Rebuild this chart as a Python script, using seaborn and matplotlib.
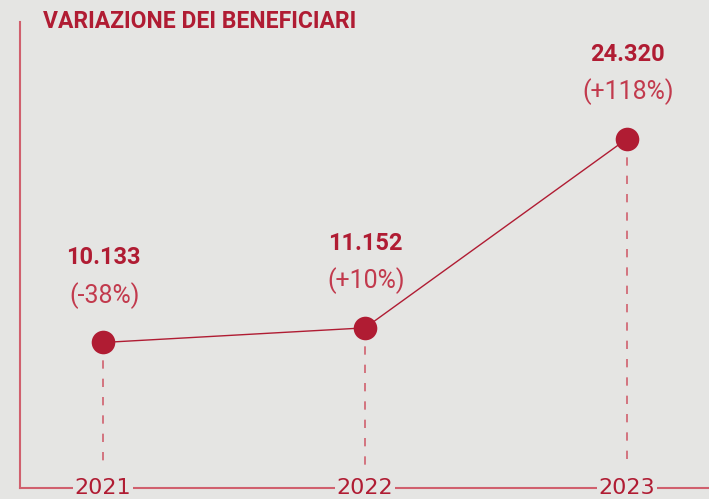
import matplotlib
matplotlib.use("Agg")
from matplotlib import pyplot as plt
import seaborn as sns
import pandas as pd

years = [2021, 2022, 2023]
beneficiari = [10133, 11152, 24320]
value_labels = ["10.133", "11.152", "24.320"]
change_labels = ["(-38%)", "(+10%)", "(+118%)"]

bg = "#e5e5e3"
red = "#b01c33"
light_red = "#c23a4d"
axis_red = "#d0606e"

sns.set_theme(style="white")
plt.rcParams['font.family'] = ['Roboto', 'DejaVu Sans']

df = pd.DataFrame({"anno": years, "beneficiari": beneficiari})

fig = plt.figure(figsize=(7.09, 4.99), dpi=100, facecolor=bg)
ax = fig.add_axes([20 / 709, 11 / 499, 1 - 20 / 709, (488 - 22) / 499])
ax.set_facecolor(bg)

# linee tratteggiate sotto ogni punto
for x, y in zip(df["anno"], df["beneficiari"]):
    ax.plot([x, x], [y, 1300], color=axis_red, lw=1.2, ls=(0, (5, 6)), zorder=1)

sns.lineplot(data=df, x="anno", y="beneficiari", ax=ax, color=red, lw=1,
             marker="o", markersize=17, markeredgewidth=0, zorder=3)

for x, y, v, c in zip(years, beneficiari, value_labels, change_labels):
    ax.annotate(v, (x, y), xytext=(0, 61), textcoords="offset points",
                ha="center", va="center", fontsize=17, fontweight="bold", color=red)
    ax.annotate(c, (x, y), xytext=(1, 34), textcoords="offset points",
                ha="center", va="center", fontsize=18, fontweight="normal", color=light_red)
    ax.text(x, 0, str(x), ha="center", va="center", fontsize=16, color=red,
            family=['Liberation Sans Narrow', 'DejaVu Sans'],
            bbox=dict(facecolor=bg, edgecolor="none", pad=1.0), zorder=5, clip_on=False)

ax.set_xlim(2020.683, 2023.313)
ax.set_ylim(0, 32450)
ax.set_xticks([])
ax.set_yticks([])
ax.set_xlabel("")
ax.set_ylabel("")
for side in ["top", "right"]:
    ax.spines[side].set_visible(False)
for side in ["left", "bottom"]:
    ax.spines[side].set_color(axis_red)
    ax.spines[side].set_linewidth(1.5)

fig.text(43 / 709, 1 - 21 / 499, "VARIAZIONE DEI BENEFICIARI", ha="left", va="center",
         fontsize=16.5, fontweight="bold", color=red)

fig.savefig("out.png", dpi=100, facecolor=bg)
